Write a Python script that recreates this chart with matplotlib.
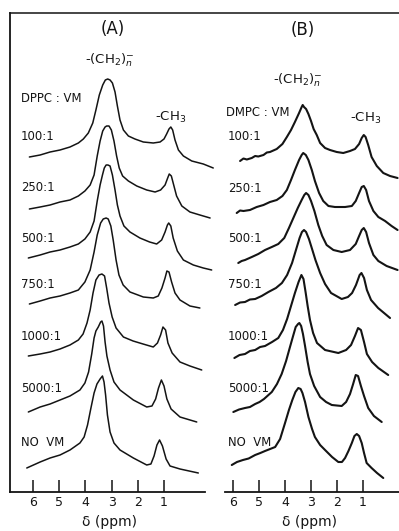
import matplotlib
matplotlib.use("Agg")
import matplotlib.pyplot as plt
from matplotlib.lines import Line2D

plt.rcParams['font.family'] = ['DejaVu Sans']

# ---------------- data (chemical shift in ppm, intensity in arbitrary units) ----------------
ratios_A = ["100:1", "250:1", "500:1", "750:1", "1000:1", "5000:1", "NO  VM"]
ratios_B = ["100:1", "250:1", "500:1", "750:1", "1000:1", "5000:1", "NO  VM"]

A_100_ppm = [6.14, 5.73, 5.35, 4.97, 4.59, 4.27, 4.08, 3.89, 3.72, 3.60, 3.47, 3.34, 3.24, 3.15, 3.06, 2.97, 2.87, 2.78, 2.68, 2.55, 2.36, 2.11, 1.79, 1.41, 1.15, 1.00, 0.90, 0.81, 0.74, 0.67, 0.58, 0.45, 0.26, -0.06, -0.50, -0.88]
A_100_int = [0, 2, 5, 7, 10, 14, 18, 24, 34, 47, 62, 72, 77, 78, 77, 74, 65, 51, 37, 27, 21, 18, 15, 14, 15, 18, 23, 28, 30, 27, 17, 7, 1, -4, -7, -11]

A_250_ppm = [6.14, 5.73, 5.35, 4.97, 4.59, 4.27, 4.02, 3.82, 3.67, 3.55, 3.44, 3.34, 3.25, 3.19, 3.10, 3.01, 2.91, 2.81, 2.71, 2.58, 2.36, 2.04, 1.66, 1.34, 1.13, 0.96, 0.86, 0.80, 0.72, 0.65, 0.52, 0.32, 0.01, -0.37, -0.76]
A_250_int = [0, 2, 4, 7, 9, 13, 18, 24, 34, 53, 68, 78, 82, 83, 83, 79, 68, 53, 41, 33, 28, 23, 19, 17, 19, 24, 31, 35, 33, 26, 13, 3, -3, -6, -9]

A_500_ppm = [6.18, 5.73, 5.35, 4.97, 4.59, 4.27, 4.02, 3.82, 3.67, 3.55, 3.44, 3.35, 3.28, 3.21, 3.14, 3.06, 2.97, 2.87, 2.78, 2.68, 2.53, 2.30, 1.92, 1.55, 1.28, 1.09, 0.96, 0.87, 0.82, 0.74, 0.65, 0.49, 0.26, -0.12, -0.50, -0.82]
A_500_int = [0, 3, 6, 8, 11, 14, 19, 26, 37, 57, 73, 83, 90, 93, 93, 92, 83, 68, 53, 42, 32, 26, 20, 16, 14, 18, 26, 33, 35, 32, 20, 7, -2, -7, -10, -12]

A_750_ppm = [6.14, 5.73, 5.35, 4.97, 4.59, 4.27, 4.02, 3.82, 3.67, 3.55, 3.42, 3.32, 3.21, 3.13, 3.03, 2.94, 2.83, 2.72, 2.56, 2.30, 1.79, 1.41, 1.22, 1.08, 0.96, 0.89, 0.81, 0.71, 0.58, 0.39, 0.01, -0.37]
A_750_int = [0, 3, 6, 8, 11, 14, 22, 34, 52, 69, 81, 85, 86, 85, 78, 64, 44, 29, 19, 12, 7, 6, 8, 16, 26, 33, 32, 22, 11, 4, -2, -4]

A_1000_ppm = [6.18, 5.73, 5.35, 4.97, 4.59, 4.27, 4.09, 3.94, 3.82, 3.71, 3.60, 3.48, 3.37, 3.27, 3.19, 3.10, 2.98, 2.83, 2.55, 2.18, 1.80, 1.41, 1.25, 1.13, 1.04, 0.94, 0.85, 0.69, 0.39, 0.01, -0.44]
A_1000_int = [0, 2, 4, 7, 11, 16, 22, 33, 46, 63, 76, 81, 82, 80, 68, 53, 39, 28, 19, 15, 12, 9, 13, 21, 29, 26, 13, 3, -6, -10, -14]

A_5000_ppm = [6.18, 5.73, 5.35, 4.97, 4.59, 4.21, 4.02, 3.88, 3.76, 3.67, 3.60, 3.51, 3.42, 3.37, 3.31, 3.25, 3.18, 3.06, 2.91, 2.68, 2.17, 1.66, 1.46, 1.32, 1.21, 1.10, 1.00, 0.89, 0.73, 0.39, -0.25]
A_5000_int = [0, 5, 8, 12, 16, 22, 29, 40, 58, 74, 81, 85, 90, 91, 86, 70, 56, 42, 30, 22, 12, 5, 6, 13, 24, 32, 26, 13, 3, -5, -10]

A_novm_ppm = [6.24, 5.73, 5.35, 4.97, 4.59, 4.21, 4.05, 3.92, 3.79, 3.67, 3.56, 3.44, 3.35, 3.29, 3.23, 3.16, 3.06, 2.91, 2.68, 2.17, 1.66, 1.50, 1.38, 1.27, 1.17, 1.06, 0.92, 0.77, 0.39, -0.31]
A_novm_int = [0, 6, 10, 13, 18, 25, 31, 43, 60, 75, 84, 89, 92, 86, 73, 53, 36, 25, 18, 10, 3, 4, 12, 23, 28, 22, 9, 2, -1, -5]

B_100_ppm = [5.73, 5.60, 5.47, 5.28, 5.15, 5.03, 4.83, 4.70, 4.58, 4.32, 4.10, 3.93, 3.77, 3.62, 3.46, 3.36, 3.32, 3.27, 3.19, 3.10, 3.00, 2.90, 2.78, 2.65, 2.46, 2.27, 2.01, 1.76, 1.50, 1.31, 1.15, 1.05, 0.97, 0.90, 0.80, 0.67, 0.47, 0.22, -0.04, -0.33]
B_100_int = [0, 2.5, 1.5, 3, 5, 4.5, 6, 8.5, 9, 12, 17, 24, 31, 39, 48, 54, 56, 54, 52, 47, 40, 32, 26, 18, 13, 11, 9, 8, 10, 12, 17, 23, 26, 24, 16, 4, -5, -12, -15, -17]

B_250_ppm = [5.86, 5.73, 5.60, 5.35, 5.09, 4.83, 4.58, 4.32, 4.10, 3.93, 3.77, 3.62, 3.46, 3.36, 3.30, 3.20, 3.10, 2.97, 2.85, 2.69, 2.53, 2.33, 2.08, 1.69, 1.43, 1.28, 1.15, 1.05, 0.97, 0.88, 0.77, 0.60, 0.41, 0.15, -0.10, -0.33]
B_250_int = [0, 2.5, 2, 3, 6, 8, 11, 13, 17, 23, 33, 43, 53, 58, 60, 58, 53, 43, 32, 20, 12, 7, 6, 6, 7, 12, 20, 26, 27, 23, 12, 2, -4, -8, -13, -17]

B_500_ppm = [5.80, 5.67, 5.54, 5.28, 5.03, 4.77, 4.51, 4.26, 4.03, 3.85, 3.68, 3.51, 3.36, 3.26, 3.19, 3.10, 3.00, 2.87, 2.72, 2.57, 2.40, 2.14, 1.82, 1.50, 1.28, 1.15, 1.05, 0.97, 0.88, 0.77, 0.60, 0.41, 0.09, -0.33]
B_500_int = [0, 2, 3, 6, 9, 13, 16, 19, 25, 35, 45, 55, 63, 68, 70, 68, 62, 52, 38, 27, 18, 13, 11, 13, 19, 27, 33, 35, 31, 20, 8, 2, -3, -7]

B_750_ppm = [5.92, 5.73, 5.54, 5.35, 5.15, 4.90, 4.64, 4.35, 4.12, 3.92, 3.73, 3.58, 3.44, 3.35, 3.27, 3.19, 3.08, 2.96, 2.83, 2.65, 2.46, 2.23, 1.82, 1.58, 1.42, 1.27, 1.13, 1.06, 0.96, 0.85, 0.69, 0.42, -0.04]
B_750_int = [0, 2.5, 3, 5.5, 6, 9, 13, 17, 22, 30, 42, 55, 67, 73, 75, 73, 66, 56, 45, 32, 21, 12, 6, 8, 12, 20, 30, 32, 27, 15, 5, -3, -13]

B_1000_ppm = [5.95, 5.75, 5.54, 5.35, 5.15, 4.96, 4.77, 4.50, 4.26, 4.08, 3.92, 3.77, 3.62, 3.48, 3.37, 3.29, 3.21, 3.13, 3.04, 2.92, 2.77, 2.46, 1.95, 1.65, 1.46, 1.31, 1.19, 1.08, 0.96, 0.85, 0.65, 0.41, 0.03]
B_1000_int = [0, 3, 4, 7, 8, 11, 12, 16, 20, 28, 39, 52, 65, 76, 83, 79, 66, 52, 38, 25, 15, 8, 5, 8, 13, 22, 30, 28, 16, 4, -4, -10, -17]

B_5000_ppm = [5.99, 5.77, 5.54, 5.35, 5.15, 4.98, 4.81, 4.51, 4.31, 4.13, 3.96, 3.81, 3.69, 3.59, 3.50, 3.45, 3.38, 3.31, 3.23, 3.13, 3.04, 2.88, 2.65, 2.42, 2.20, 1.82, 1.65, 1.50, 1.38, 1.28, 1.19, 1.08, 0.96, 0.80, 0.58, 0.28]
B_5000_int = [0, 2.5, 4, 5, 8, 10, 13, 20, 28, 38, 51, 65, 76, 85, 88, 89, 86, 78, 66, 50, 38, 26, 15, 10, 7, 6, 10, 18, 28, 37, 36, 26, 16, 4, -4, -10]

B_novm_ppm = [6.05, 5.85, 5.62, 5.40, 5.15, 4.95, 4.77, 4.38, 4.19, 4.00, 3.85, 3.72, 3.60, 3.49, 3.40, 3.33, 3.23, 3.10, 2.96, 2.85, 2.65, 2.46, 2.19, 1.95, 1.81, 1.69, 1.56, 1.43, 1.33, 1.24, 1.15, 1.05, 0.96, 0.86, 0.67, 0.46, 0.22]
B_novm_int = [0, 3, 5, 6.5, 10, 12, 14, 18, 26, 42, 55, 65, 73, 77, 76, 72, 63, 48, 36, 28, 20, 15, 8, 3, 3, 7, 14, 22, 29, 31, 29, 22, 12, 2, -3, -8, -13]

tick_ppm = [6, 5, 4, 3, 2, 1]

# ---------------- layout ----------------
W, H = 399, 531
fig = plt.figure(figsize=(W / 100, H / 100), dpi=100)
fig.patch.set_facecolor("white")

def fx(x):
    return x / W

def fy(y):
    return 1 - y / H

INK = "#141414"
# stacking offsets of each trace (vertical position, same units as intensity)
offsets_A = [335, 283, 234, 188, 136, 80, 24]
offsets_B = [331, 279, 229, 187, 134, 80, 27]

axA = fig.add_axes([fx(10), fy(492), fx(205) - fx(10), fy(13) - fy(492)])
axB = fig.add_axes([fx(225), fy(492), fx(399) - fx(225), fy(13) - fy(492)])

axA.set_xlim(6.88, -0.565)
axB.set_xlim(6.31, -0.385)
for ax in (axA, axB):
    ax.set_ylim(0, 479)
    ax.set_facecolor("none")
    ax.set_yticks([])
    ax.set_xticks(tick_ppm)
    ax.set_xticklabels([str(t) for t in tick_ppm], fontsize=9, color=INK)
    ax.tick_params(axis="x", direction="in", length=9, width=1.1, pad=3, colors=INK)
    for s in ("top", "right"):
        ax.spines[s].set_visible(False)
    ax.spines["bottom"].set_linewidth(1.3)
    ax.spines["bottom"].set_color(INK)
axA.spines["left"].set_linewidth(1.3)
axA.spines["left"].set_color(INK)
axB.spines["left"].set_visible(False)

tracesA = [(A_100_ppm, A_100_int), (A_250_ppm, A_250_int), (A_500_ppm, A_500_int),
           (A_750_ppm, A_750_int), (A_1000_ppm, A_1000_int), (A_5000_ppm, A_5000_int),
           (A_novm_ppm, A_novm_int)]
tracesB = [(B_100_ppm, B_100_int), (B_250_ppm, B_250_int), (B_500_ppm, B_500_int),
           (B_750_ppm, B_750_int), (B_1000_ppm, B_1000_int), (B_5000_ppm, B_5000_int),
           (B_novm_ppm, B_novm_int)]

for (p, v), off in zip(tracesA, offsets_A):
    axA.plot(p, [off + i for i in v], color=INK, lw=1.1, clip_on=False,
             solid_joinstyle="round", solid_capstyle="round")
for (p, v), off in zip(tracesB, offsets_B):
    axB.plot(p, [off + i for i in v], color=INK, lw=1.5, clip_on=False,
             solid_joinstyle="round", solid_capstyle="round")

# top frame line spanning both panels
fig.add_artist(Line2D([fx(10), fx(399)], [fy(13), fy(13)], color=INK, lw=1.1))

# ---------------- texts ----------------
fs = 8.4
fig.text(fx(113), fy(29), "(A)", fontsize=12, ha="center", va="center", color=INK)
fig.text(fx(303), fy(30), "(B)", fontsize=12, ha="center", va="center", color=INK)
fig.text(fx(110), fy(60), r"-(CH$_2$)$_n^{-}$", fontsize=9.5, ha="center", va="center", color=INK)
fig.text(fx(298), fy(80), r"-(CH$_2$)$_n^{-}$", fontsize=9.5, ha="center", va="center", color=INK)
fig.text(fx(171), fy(117), r"-CH$_3$", fontsize=9.5, ha="center", va="center", color=INK)
fig.text(fx(366), fy(118), r"-CH$_3$", fontsize=9.5, ha="center", va="center", color=INK)
fig.text(fx(21), fy(99), "DPPC : VM", fontsize=fs, ha="left", va="center", color=INK)
fig.text(fx(226), fy(112), "DMPC : VM", fontsize=fs, ha="left", va="center", color=INK)

label_y_A = [137, 188, 238, 285, 336, 388, 442]
label_y_B = [137, 189, 238, 285, 337, 388, 443]
for lab, y in zip(ratios_A, label_y_A):
    fig.text(fx(21), fy(y), lab, fontsize=fs, ha="left", va="center", color=INK)
for lab, y in zip(ratios_B, label_y_B):
    fig.text(fx(228), fy(y), lab, fontsize=fs, ha="left", va="center", color=INK)

fig.text(fx(109), fy(522), "δ (ppm)", fontsize=10, ha="center", va="center", color=INK)
fig.text(fx(310), fy(522), "δ (ppm)", fontsize=10, ha="center", va="center", color=INK)

fig.savefig("out.png", dpi=100, facecolor="white")
